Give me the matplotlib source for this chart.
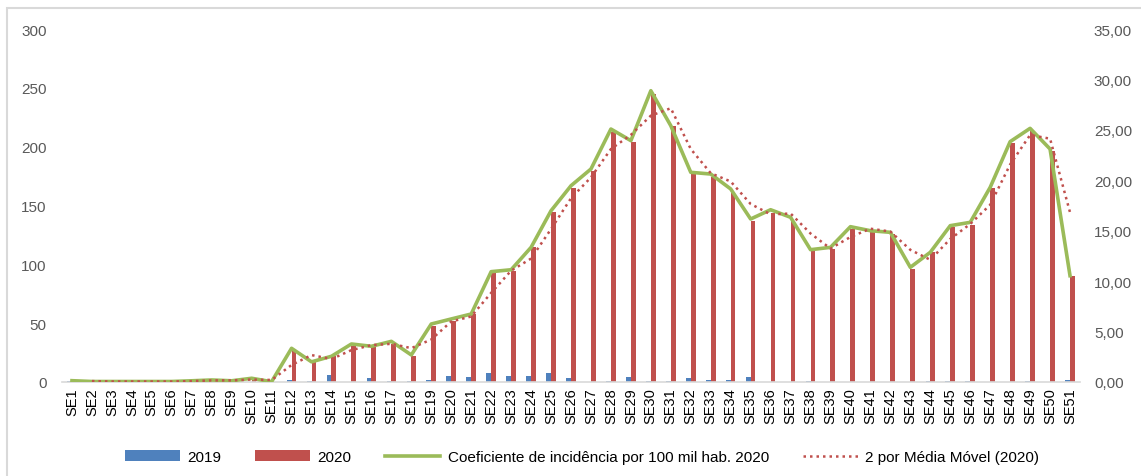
import matplotlib
matplotlib.use("Agg")
import matplotlib.pyplot as plt
import numpy as np
import pandas as pd
from matplotlib.patches import Rectangle

weeks = [f"SE{i}" for i in range(1, 52)]

cases_2019 = [1, 0, 0, 0, 0, 0, 0, 0, 0, 0, 0,
              1.7, 1, 6, 0, 3.4, 1, 1, 1.7, 4.8, 4,
              8, 4.8, 4.8, 7.4, 3.4, 0, 1, 4.2, 1, 1,
              3.4, 2, 2, 4.2, 0, 0, 1, 0, 0, 0,
              0, 0, 1, 1, 1, 0, 0, 1, 0, 1.7]

cases_2020 = [1, 0, 0, 0, 0, 0, 1, 2, 1, 3, 0,
              28, 18, 22, 31, 29.5, 32.3, 22.4, 47.3, 52, 57.8,
              92.6, 94.6, 114.5, 144.2, 164.9, 179.6, 212.2, 203.7, 244.8, 217.8,
              176.8, 174, 161.7, 137.1, 144, 137, 111.6, 113, 130, 127.2,
              125.8, 96, 110.2, 132, 133.7, 164.9, 203, 213.6, 196.6, 89.8]

incidence_2020 = [0.13, 0.05, 0.05, 0.05, 0.05, 0.05, 0.12, 0.2, 0.12, 0.37, 0.03,
                  3.34, 2.0, 2.55, 3.77, 3.54, 4.03, 2.68, 5.75, 6.25, 6.74,
                  10.94, 11.13, 13.35, 16.98, 19.46, 21.12, 25.08, 23.93, 28.88, 25.41,
                  20.79, 20.62, 19.14, 16.16, 17.08, 16.33, 13.12, 13.35, 15.4, 15.0,
                  14.84, 11.37, 12.86, 15.5, 15.83, 19.3, 23.83, 25.15, 23.1, 10.54]

left_ticks = [0, 50, 100, 150, 200, 250, 300]
right_ticks = [0, 5, 10, 15, 20, 25, 30, 35]
right_tick_labels = ["0,00", "5,00", "10,00", "15,00", "20,00", "25,00", "30,00", "35,00"]

legend_labels = ["2019", "2020", "Coeficiente de incidência por 100 mil hab. 2020",
                 "2 por Média Móvel (2020)"]

moving_avg = pd.Series(incidence_2020).rolling(2).mean()

blue = "#4f81bd"
red = "#c0504d"
green = "#9bbb59"
grey_text = "#595959"

plt.rcParams['font.family'] = ['Liberation Sans', 'DejaVu Sans']

fig = plt.figure(figsize=(11.41, 4.77), dpi=100)
# chart-area border (only left and top edges fall inside the picture)
fig.patches.append(Rectangle((7 / 1141, -20 / 477), 1200 / 1141, (477 - 9 + 20) / 477,
                             transform=fig.transFigure, fill=False,
                             edgecolor="#d9d9d9", linewidth=1.5))

ax = fig.add_axes([62 / 1141, (477 - 383) / 477, 1018 / 1141, 353 / 477])
x = np.arange(len(weeks))
w = 0.24
ax.bar(x - 0.12, cases_2019, width=w, color=blue, label=legend_labels[0], zorder=2)
ax.bar(x + 0.12, cases_2020, width=w, color=red, label=legend_labels[1], zorder=2)
ax.set_xlim(-0.5, len(weeks) - 0.5)
ax.set_ylim(0, 300)
ax.set_yticks(left_ticks)
ax.set_xticks(x)
ax.set_xticklabels(weeks, rotation=90, fontsize=10.5, color="black")
ax.tick_params(axis='y', length=0, labelsize=11, labelcolor=grey_text, pad=11)
ax.tick_params(axis='x', length=0, pad=4)
for s in ["top", "left", "right"]:
    ax.spines[s].set_visible(False)
ax.spines["bottom"].set_color("#d9d9d9")
ax.spines["bottom"].set_linewidth(1.2)

ax2 = ax.twinx()
ax2.plot(x, incidence_2020, color=green, linewidth=2.6, label=legend_labels[2], zorder=3)
ax2.plot(x, moving_avg, color=red, linewidth=1.8, linestyle=(0, (1, 1.6)),
         label=legend_labels[3], zorder=4)
ax2.set_ylim(0, 35)
ax2.set_yticks(right_ticks)
ax2.set_yticklabels(right_tick_labels)
ax2.tick_params(axis='y', length=0, labelsize=11, labelcolor=grey_text, pad=10)
for s in ["top", "left", "right", "bottom"]:
    ax2.spines[s].set_visible(False)

h1, l1 = ax.get_legend_handles_labels()
h2, l2 = ax2.get_legend_handles_labels()
fig.legend(h1 + h2, l1 + l2, loc="center", bbox_to_anchor=(582 / 1141, 19 / 477), ncol=4,
           frameon=False, fontsize=11, handlelength=3.6, columnspacing=2.2,
           handletextpad=0.5)

fig.savefig("out.png", dpi=100)
